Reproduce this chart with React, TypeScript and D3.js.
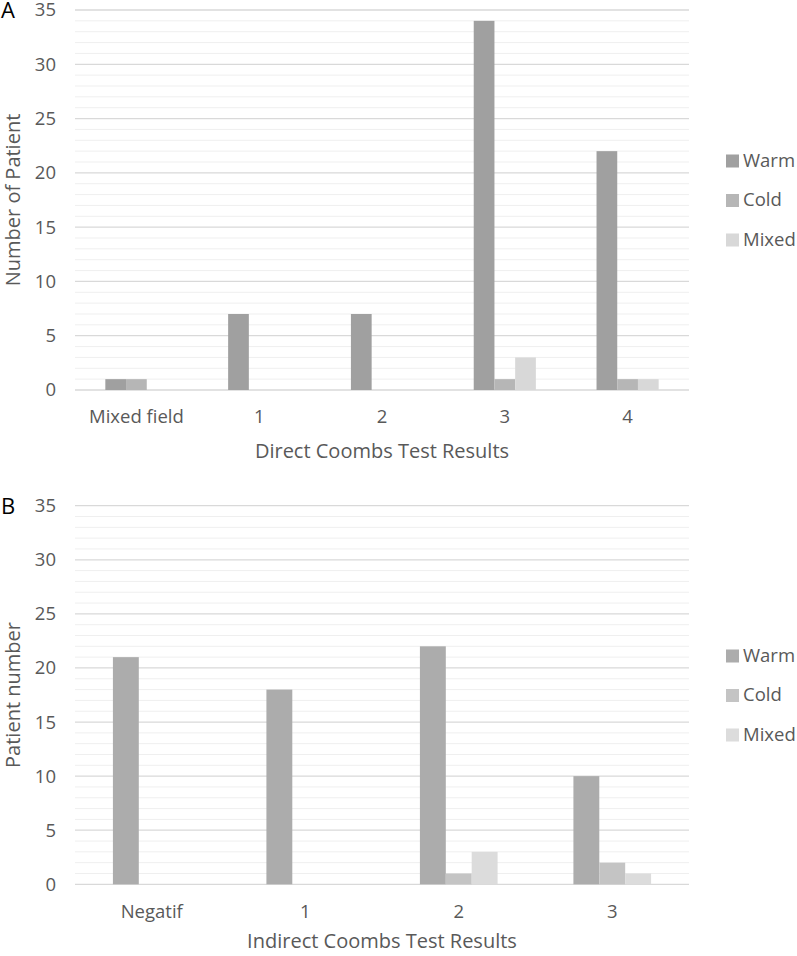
import * as React from 'react';
import * as d3 from 'd3';

// Direct Coombs panel
const directCategories = ['Mixed field', '1', '2', '3', '4'];
const directWarm = [1, 7, 7, 34, 22];
const directCold = [1, 0, 0, 1, 1];
const directMixed = [0, 0, 0, 3, 1];

// Indirect Coombs panel
const indirectCategories = ['Negatif', '1', '2', '3'];
const indirectWarm = [21, 18, 22, 10];
const indirectCold = [0, 0, 1, 2];
const indirectMixed = [0, 0, 3, 1];

const seriesNames = ['Warm', 'Cold', 'Mixed'];
const yTicks = [0, 5, 10, 15, 20, 25, 30, 35];

const FONT = '"Open Sans", "DejaVu Sans", sans-serif';
const TEXT = '#595959';

type PanelProps = {
  letter: string;
  categories: string[];
  series: number[][];
  colors: string[];
  yTitle: string;
  xTitle: string;
  top: number;
  bottom: number;
  titleGap: number;
};

const Panel = ({ letter, categories, series, colors, yTitle, xTitle, top, bottom, titleGap }: PanelProps) => {
  const left = 75;
  const right = 689;
  const y = d3.scaleLinear().domain([0, 35]).range([bottom, top]);
  const x = d3.scaleBand().domain(categories).range([left, right]).padding(0);
  const inner = d3
    .scaleBand()
    .domain(seriesNames)
    .range([x.bandwidth() * 0.247, x.bandwidth() * 0.753]);
  const minor = d3.range(0, 36).filter((v) => v % 5 !== 0);

  return (
    <g>
      <text x={1} y={top + 8} fontSize={22} fill='#000' fontFamily={FONT}>
        {letter}
      </text>
      {minor.map((v) => (
        <line key={'m' + v} x1={left} x2={right} y1={y(v)} y2={y(v)} stroke='#efefef' strokeWidth={1} />
      ))}
      {yTicks.map((v) => (
        <g key={'t' + v}>
          <line x1={left} x2={right} y1={y(v)} y2={y(v)} stroke='#d9d9d9' strokeWidth={1.3} />
          <text x={56} y={y(v)} dy='0.35em' textAnchor='end' fontSize={18.5} fill={TEXT} fontFamily={FONT}>
            {v}
          </text>
        </g>
      ))}
      {series.map((vals, si) =>
        vals.map((v, ci) =>
          v > 0 ? (
            <rect
              key={si + '-' + ci}
              x={(x(categories[ci]) as number) + (inner(seriesNames[si]) as number)}
              y={y(v)}
              width={inner.bandwidth()}
              height={y(0) - y(v)}
              fill={colors[si]}
            />
          ) : null
        )
      )}
      {categories.map((c) => (
        <text
          key={c}
          x={(x(c) as number) + x.bandwidth() / 2}
          y={bottom + 27}
          dy='0.35em'
          textAnchor='middle'
          fontSize={18.5}
          fill={TEXT}
          fontFamily={FONT}>
          {c}
        </text>
      ))}
      <text
        x={(left + right) / 2}
        y={bottom + titleGap}
        dy='0.35em'
        textAnchor='middle'
        fontSize={20}
        fill={TEXT}
        fontFamily={FONT}>
        {xTitle}
      </text>
      <text
        transform={`translate(13 ${(top + bottom) / 2}) rotate(-90)`}
        dy='0.35em'
        textAnchor='middle'
        fontSize={20}
        fill={TEXT}
        fontFamily={FONT}>
        {yTitle}
      </text>
      {seriesNames.map((s, i) => {
        const cy = (top + bottom) / 2 + (i - 1) * 39.5;
        return (
          <g key={s}>
            <rect x={726} y={cy - 6} width={13} height={13} fill={colors[i]} />
            <text x={743} y={cy} dy='0.35em' fontSize={18.5} fill={TEXT} fontFamily={FONT}>
              {s}
            </text>
          </g>
        );
      })}
    </g>
  );
};

const App = () => {
  return (
    <svg width={797} height={956} style={{ position: 'absolute', left: 0, top: 0, background: '#fff' }}>
      <rect width={797} height={956} fill='#fff' />
      <Panel
        letter='A'
        categories={directCategories}
        series={[directWarm, directCold, directMixed]}
        colors={['#a0a0a0', '#b6b6b6', '#d8d8d8']}
        yTitle='Number of Patient'
        xTitle='Direct Coombs Test Results'
        top={10}
        bottom={390}
        titleGap={61}
      />
      <Panel
        letter='B'
        categories={indirectCategories}
        series={[indirectWarm, indirectCold, indirectMixed]}
        colors={['#acacac', '#c4c4c4', '#dcdcdc']}
        yTitle='Patient number'
        xTitle='Indirect Coombs Test Results'
        top={505.7}
        bottom={884.3}
        titleGap={57}
      />
    </svg>
  );
};

export default App;
